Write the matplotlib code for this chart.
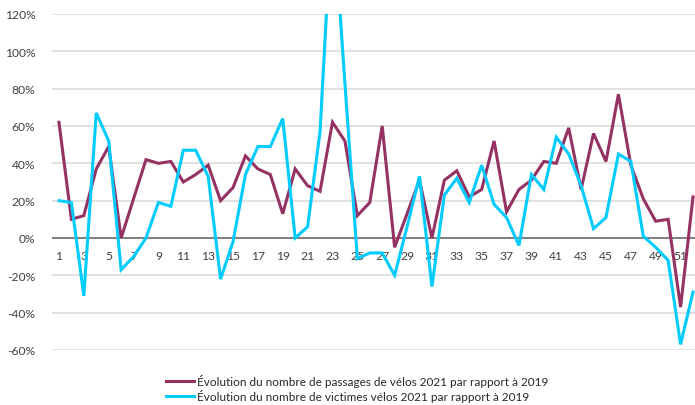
import matplotlib
matplotlib.use("Agg")
import matplotlib.pyplot as plt
from matplotlib.ticker import FuncFormatter, MultipleLocator

weeks = list(range(1, 53))
passages = [62, 10, 12, 37, 49, 0, 21, 42, 40, 41, 30, 34, 39, 20, 27, 44, 37, 34, 13, 37,
            28, 25, 62, 52, 12, 19, 60, -5, 13, 31, 0, 31, 36, 22, 26, 52, 14, 26, 31, 41,
            40, 59, 26, 56, 41, 77, 39, 21, 9, 10, -37, 22]
victimes = [20, 19, -31, 67, 52, -17, -10, 0, 19, 17, 47, 47, 33, -22, -2, 34, 49, 49, 64, 0,
            6, 57, 180, 83, -11, -8, -8, -20, 6, 33, -26, 23, 32, 19, 39, 18, 11, -4, 34, 26,
            54, 45, 28, 5, 11, 45, 41, 1, -5, -12, -57, -29]
label_passages = "Évolution du nombre de passages de vélos 2021 par rapport à 2019"
label_victimes = "Évolution du nombre de victimes vélos 2021 par rapport à 2019"
x_tick_labels = [str(w) for w in weeks if w % 2 == 1]

plt.rcParams['font.family'] = ['Lato', 'DejaVu Sans']

W, H = 695, 406
fig = plt.figure(figsize=(W / 100, H / 100), dpi=100)
ax = fig.add_axes([52 / W, (H - 351) / H, 643 / W, 336 / H])

purple = '#943363'
cyan = '#00CCFF'

ax.plot(weeks, passages, color=purple, lw=2.2, label=label_passages, solid_joinstyle='miter')
ax.plot(weeks, victimes, color=cyan, lw=2.2, label=label_victimes, solid_joinstyle='miter')

ax.set_ylim(-60, 120)
ax.set_xlim(0.44, 52.16)
ax.yaxis.set_major_locator(MultipleLocator(20))
ax.yaxis.set_major_formatter(FuncFormatter(lambda v, p: f"{int(round(v))}%"))
ax.grid(axis='y', color='#d9d9d9', lw=1.1)
ax.set_axisbelow(True)
ax.axhline(0, color='#6e6e6e', lw=1.2, zorder=1.5)

ax.set_xticks([w for w in weeks if w % 2 == 1])
ax.set_xticklabels(x_tick_labels)
ax.spines['bottom'].set_position(('data', 0))
for s in ['top', 'right', 'left', 'bottom']:
    ax.spines[s].set_visible(False)
ax.tick_params(axis='x', length=0, pad=9, labelsize=8.7, labelcolor='#404040')
ax.tick_params(axis='y', length=0, pad=12, labelsize=8.7, labelcolor='#404040')

leg = fig.legend(loc='upper left', bbox_to_anchor=(166 / W, 1 - 375 / H), frameon=False,
                 fontsize=8.5, handlelength=2.4, handletextpad=0.2, labelspacing=0.2,
                 borderpad=0, borderaxespad=0)
for t in leg.get_texts():
    t.set_color('#262626')

fig.savefig('out.png', dpi=100)
